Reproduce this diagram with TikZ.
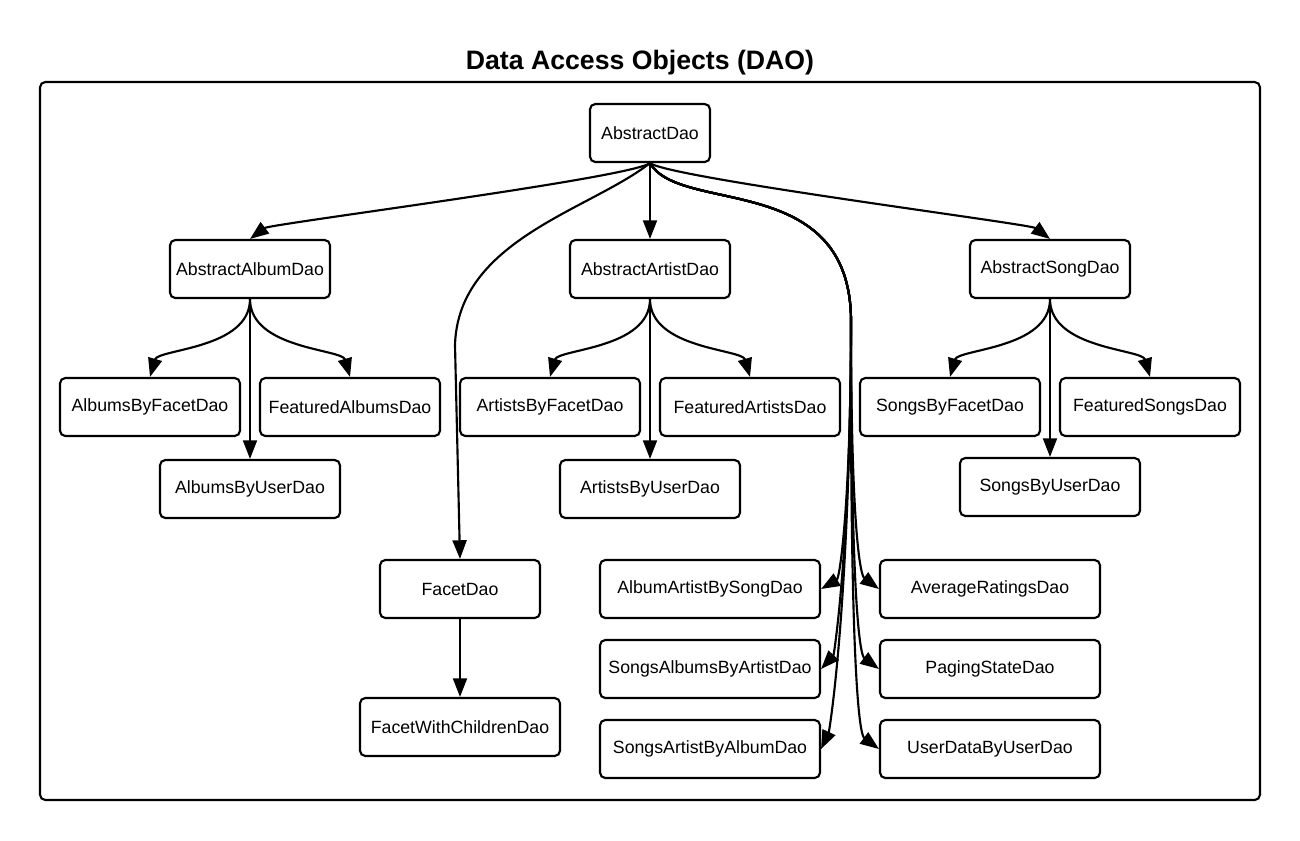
\documentclass[tikz,border=0pt]{standalone}
\usepackage{fontspec}
\setmainfont{Liberation Sans}
\usetikzlibrary{arrows.meta}
\tikzset{
  daobox/.style={draw, line width=1.6pt, rounded corners=4pt, minimum height=43.5pt, inner sep=0pt,
    font=\fontsize{13.3pt}{15pt}\selectfont},
  w120/.style={minimum width=90pt},
  w160/.style={minimum width=120pt},
  w180/.style={minimum width=135pt},
  w200/.style={minimum width=150pt},
  w220/.style={minimum width=165pt},
  conn/.style={line width=1.6pt, -{Triangle[length=14pt,width=10.5pt]}},
  frame/.style={draw, line width=1.6pt, rounded corners=4pt},
  titletext/.style={font=\fontsize{20pt}{24pt}\selectfont\bfseries}
}
\begin{document}
\begin{tikzpicture}[x=0.75pt,y=-0.75pt]
\useasboundingbox (0,0) rectangle (1300,840);
\node[titletext] (title) at (640,63) {Data Access Objects (DAO)};
\draw[frame] (40,82) rectangle (1260,800);

\node[daobox,w120] (ad) at (650,133) {AbstractDao};
\node[daobox,w160] (aalb) at (250,269) {AbstractAlbumDao};
\node[daobox,w160] (aart) at (650,269) {AbstractArtistDao};
\node[daobox,w160] (asong) at (1050,269) {AbstractSongDao};

\node[daobox,w180] (abf) at (150,407) {AlbumsByFacetDao};
\node[daobox,w180] (fab) at (350,407) {FeaturedAlbumsDao};
\node[daobox,w180] (abu) at (250,489) {AlbumsByUserDao};

\node[daobox,w180] (arbf) at (550,407) {ArtistsByFacetDao};
\node[daobox,w180] (far) at (750,407) {FeaturedArtistsDao};
\node[daobox,w180] (arbu) at (650,489) {ArtistsByUserDao};

\node[daobox,w180] (sbf) at (950,407) {SongsByFacetDao};
\node[daobox,w180] (fs) at (1150,407) {FeaturedSongsDao};
\node[daobox,w180] (sbu) at (1050,487) {SongsByUserDao};

\node[daobox,w160] (fd) at (460,589) {FacetDao};
\node[daobox,w200] (fwc) at (460,727) {FacetWithChildrenDao};

\node[daobox,w220] (aabs) at (710,589) {AlbumArtistBySongDao};
\node[daobox,w220] (saba) at (710,669) {SongsAlbumsByArtistDao};
\node[daobox,w220] (sabal) at (710,749) {SongsArtistByAlbumDao};

\node[daobox,w220] (ar) at (990,589) {AverageRatingsDao};
\node[daobox,w220] (ps) at (990,669) {PagingStateDao};
\node[daobox,w220] (ud) at (990,749) {UserDataByUserDao};

% top level
\draw[conn] (ad.south) .. controls +(-20,15) and +(20,-15) .. (aalb.north);
\draw[conn] (ad.south) .. controls +(20,15) and +(-20,-15) .. (asong.north);
\draw[conn] (ad.south) -- (aart.north);
\draw[conn] (ad.south) .. controls (590,210) and (458,240) .. (455,345) -- (fd.north);
\draw[conn] (fd.south) -- (fwc.north);

% bundle
\coordinate (bus) at (851,320);
\draw[conn] (ad.south) .. controls (680,215) and (850,170) .. (bus) .. controls (851,500) and (840,578) .. (aabs.east);
\draw[conn] (ad.south) .. controls (680,215) and (850,170) .. (bus) .. controls (851,545) and (834,655) .. (saba.east);
\draw[conn] (ad.south) .. controls (680,215) and (850,170) .. (bus) .. controls (850,610) and (829,732) .. (sabal.east);
\draw[conn] (ad.south) .. controls (680,215) and (850,170) .. (bus) .. controls (851,525) and (860,575) .. (ar.west);
\draw[conn] (ad.south) .. controls (680,215) and (850,170) .. (bus) .. controls (851,605) and (860,655) .. (ps.west);
\draw[conn] (ad.south) .. controls (680,215) and (850,170) .. (bus) .. controls (850,685) and (860,735) .. (ud.west);

% subtrees
\foreach \p/\l/\r/\u in {aalb/abf/fab/abu, aart/arbf/far/arbu, asong/sbf/fs/sbu}{
  \draw[conn] (\p.south) .. controls +(0,50) and +(8,-28) .. (\l.north);
  \draw[conn] (\p.south) .. controls +(0,50) and +(-8,-28) .. (\r.north);
  \draw[conn] (\p.south) -- (\u.north);
}
\end{tikzpicture}
\end{document}
